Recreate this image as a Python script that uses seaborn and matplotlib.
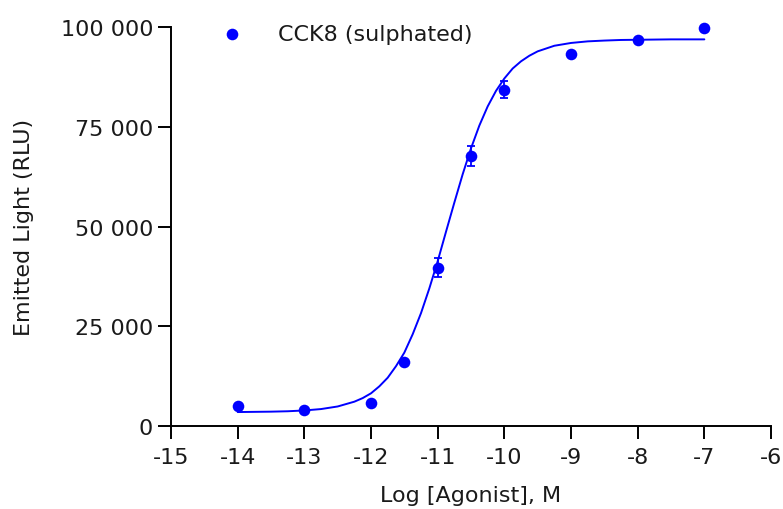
import numpy as np
import pandas as pd
import seaborn as sns
import matplotlib.pyplot as plt

# measured points (log M vs RLU), mean +/- sem
log_agonist = [-14, -13, -12, -11.5, -11, -10.5, -10, -9, -8, -7]
emitted = [5000, 4000, 5700, 16000, 39700, 67700, 84300, 93200, 96800, 99700]
sem = [0, 0, 0, 0, 2300, 2500, 2050, 0, 0, 0]

# fitted curve
curve_x = [-14, -13.75, -13.5, -13.25, -13, -12.75, -12.5, -12.25, -12.125, -12,
           -11.875, -11.75, -11.625, -11.5, -11.375, -11.25, -11.125, -11, -10.875,
           -10.75, -10.625, -10.5, -10.375, -10.25, -10.125, -10, -9.875, -9.75,
           -9.625, -9.5, -9.25, -9, -8.75, -8.5, -8.25, -8, -7.75, -7.5, -7.25, -7]
curve_y = [3500, 3550, 3600, 3700, 3900, 4250, 4900, 6100, 7000, 8200,
           9950, 12100, 15000, 18400, 23000, 28300, 34500, 41300, 48700,
           56000, 63100, 69600, 75300, 80100, 84000, 87100, 89600, 91400,
           92800, 93900, 95300, 96000, 96400, 96600, 96750, 96800, 96850, 96900, 96900, 96900]

xticks = [-15, -14, -13, -12, -11, -10, -9, -8, -7, -6]
yticks = [0, 25000, 50000, 75000, 100000]
ytick_labels = ['0', '25 000', '50 000', '75 000', '100 000']

series_name = 'CCK8 (sulphated)'
blue = '#0000FF'
ink = '#1a1a1a'

sns.set_style('ticks')
plt.rcParams['font.family'] = ['DejaVu Sans']
plt.rcParams['axes.unicode_minus'] = False

pts = pd.DataFrame({'x': log_agonist, 'y': emitted, 'sem': sem})
fit = pd.DataFrame({'x': curve_x, 'y': curve_y})
bars = pts[pts['sem'] > 0]  # bars shorter than the symbol are not drawn

fig = plt.figure(figsize=(7.83, 5.1), dpi=100)
ax = fig.add_axes([0.2184, 0.1627, 0.7663, 0.7824])

sns.lineplot(data=fit, x='x', y='y', color=blue, linewidth=1.4, ax=ax, legend=False)
ax.errorbar(bars['x'], bars['y'], yerr=bars['sem'], fmt='none', ecolor=blue,
            elinewidth=1.3, capsize=3, capthick=1.3, zorder=3)
sns.scatterplot(data=pts, x='x', y='y', color=blue, s=70, edgecolor=blue,
                linewidth=0, ax=ax, label=series_name, zorder=4, clip_on=False)

ax.set_xlim(-15, -6)
ax.set_ylim(0, 100000)
ax.set_xticks(xticks)
ax.set_xticklabels([str(t) for t in xticks])
ax.set_yticks(yticks)
ax.set_yticklabels(ytick_labels)

sns.despine(ax=ax)
for s in ['left', 'bottom']:
    ax.spines[s].set_linewidth(1.4)
    ax.spines[s].set_color('black')
ax.tick_params(axis='x', length=9.4, width=1.4, pad=6, labelsize=16, colors=ink)
ax.tick_params(axis='y', length=9.4, width=1.4, pad=3.5, labelsize=16, colors=ink)
ax.tick_params(color='black')

ax.set_xlabel('Log [Agonist], M', fontsize=16, color=ink)
ax.set_ylabel('Emitted Light (RLU)', fontsize=16, color=ink)
ax.xaxis.set_label_coords(0.5, -0.147)
ax.yaxis.set_label_coords(-0.228, 0.5)

leg = ax.legend(loc='upper left', bbox_to_anchor=(210 / 783, 1 - 14 / 510),
                bbox_transform=fig.transFigure, frameon=False, borderpad=0,
                handlelength=1.0, handletextpad=1.57, fontsize=16,
                markerscale=1.0)
for t in leg.get_texts():
    t.set_color(ink)

fig.savefig('out.png', dpi=100)
